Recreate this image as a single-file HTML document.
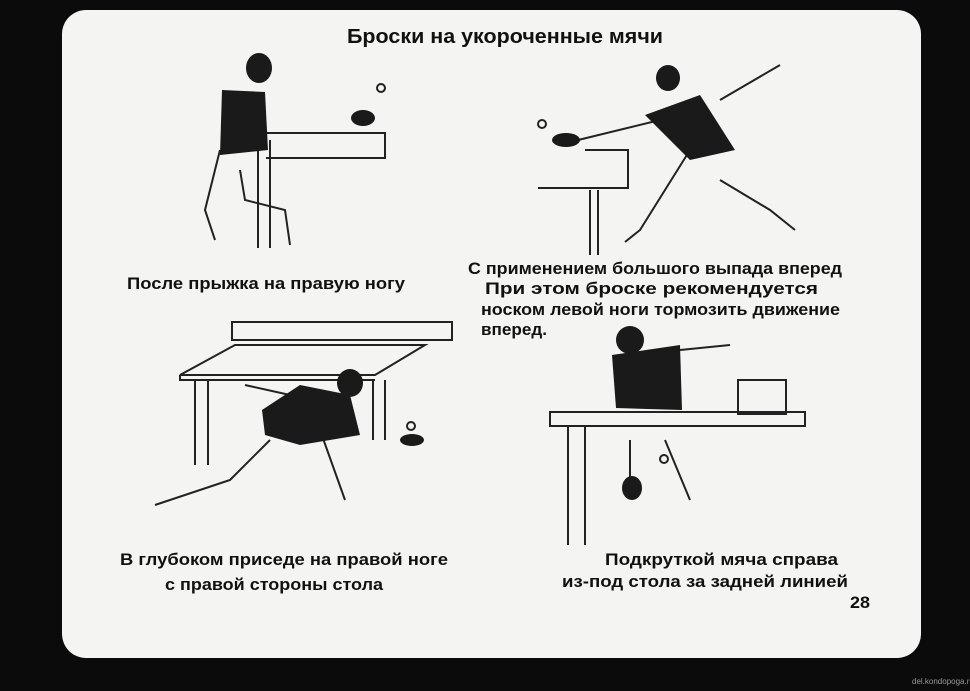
<!DOCTYPE html>
<html><head><meta charset="utf-8"><style>
html,body{margin:0;padding:0;background:#0a0a0a;width:970px;height:691px;overflow:hidden}
svg{display:block}
text{font-family:"Liberation Sans Narrow","Liberation Sans",sans-serif;fill:#111}
</style></head><body>
<svg width="970" height="691" viewBox="0 0 970 691" xmlns="http://www.w3.org/2000/svg">
<rect x="0" y="0" width="970" height="691" fill="#0b0b0b"/>
<rect x="62" y="10" width="859" height="648" rx="24" fill="#f4f4f2"/>
<g font-size="17" font-weight="bold">
<text x="347" y="43" font-size="20" textLength="316" lengthAdjust="spacingAndGlyphs">Броски на укороченные мячи</text>
<text x="127" y="289" textLength="278" lengthAdjust="spacingAndGlyphs">После прыжка на правую ногу</text>
<text x="468" y="274" textLength="374" lengthAdjust="spacingAndGlyphs">С применением большого выпада вперед</text>
<text x="485" y="294" textLength="333" lengthAdjust="spacingAndGlyphs">При этом броске рекомендуется</text>
<text x="481" y="315" textLength="359" lengthAdjust="spacingAndGlyphs">носком левой ноги тормозить движение</text>
<text x="481" y="335" textLength="66" lengthAdjust="spacingAndGlyphs">вперед.</text>
<text x="120" y="565" textLength="328" lengthAdjust="spacingAndGlyphs">В глубоком приседе на правой ноге</text>
<text x="165" y="590" textLength="218" lengthAdjust="spacingAndGlyphs">с правой стороны стола</text>
<text x="605" y="565" textLength="233" lengthAdjust="spacingAndGlyphs">Подкруткой мяча справа</text>
<text x="562" y="587" textLength="286" lengthAdjust="spacingAndGlyphs">из-под стола за задней линией</text>
<text x="850" y="608" textLength="20" lengthAdjust="spacingAndGlyphs">28</text>
</g>
<text x="912" y="684" font-size="8" fill="#888" style="fill:#999">del.kondopoga.ru</text>
<g stroke="#222" stroke-width="2" fill="none">
<!-- fig1 -->
<path d="M240 133 L385 133 L385 158 L266 158 M258 140 L258 248 M270 140 L270 248"/>
<path d="M220 150 L205 210 L215 240 M240 170 L245 200 L285 210 L290 245"/>
<circle cx="381" cy="88" r="4"/>
<!-- fig2 -->
<path d="M538 188 L628 188 L628 150 L585 150 M590 190 L590 255 M598 190 L598 255"/>
<path d="M690 150 L640 230 L625 242 M720 180 L770 210 L795 230 M570 142 L660 120 M720 100 L780 65"/>
<circle cx="542" cy="124" r="4"/>
<!-- fig3 -->
<path d="M180 375 L235 345 L425 345 L375 375 Z M180 375 L180 380 L375 380 M195 380 L195 465 M208 380 L208 465 M373 380 L373 440 M385 380 L385 440"/>
<rect x="232" y="322" width="220" height="18"/>
<path d="M270 440 L230 480 L155 505 M320 430 L345 500 M245 385 L290 395"/>
<circle cx="411" cy="426" r="4"/>
<!-- fig4 -->
<path d="M550 412 L805 412 L805 426 L550 426 Z M568 426 L568 545 M585 426 L585 545"/>
<rect x="738" y="380" width="48" height="34"/>
<path d="M630 440 L630 480 M665 440 L690 500 M680 350 L730 345"/>
<circle cx="664" cy="459" r="4"/>
</g>
<g fill="#1a1a1a">
<path d="M222 90 L265 92 L268 150 L220 155 Z"/>
<ellipse cx="259" cy="68" rx="13" ry="15"/>
<path d="M645 115 L700 95 L735 150 L690 160 Z"/>
<ellipse cx="668" cy="78" rx="12" ry="13"/>
<path d="M262 410 L300 385 L350 395 L360 435 L300 445 L265 435 Z"/>
<ellipse cx="350" cy="383" rx="13" ry="14"/>
<path d="M612 355 L680 345 L682 410 L616 408 Z"/>
<ellipse cx="630" cy="340" rx="14" ry="14"/>
<ellipse cx="363" cy="118" rx="12" ry="8"/>
<ellipse cx="566" cy="140" rx="14" ry="7"/>
<ellipse cx="412" cy="440" rx="12" ry="6"/>
<ellipse cx="632" cy="488" rx="10" ry="12"/>
</g>
</svg>
</body></html>
